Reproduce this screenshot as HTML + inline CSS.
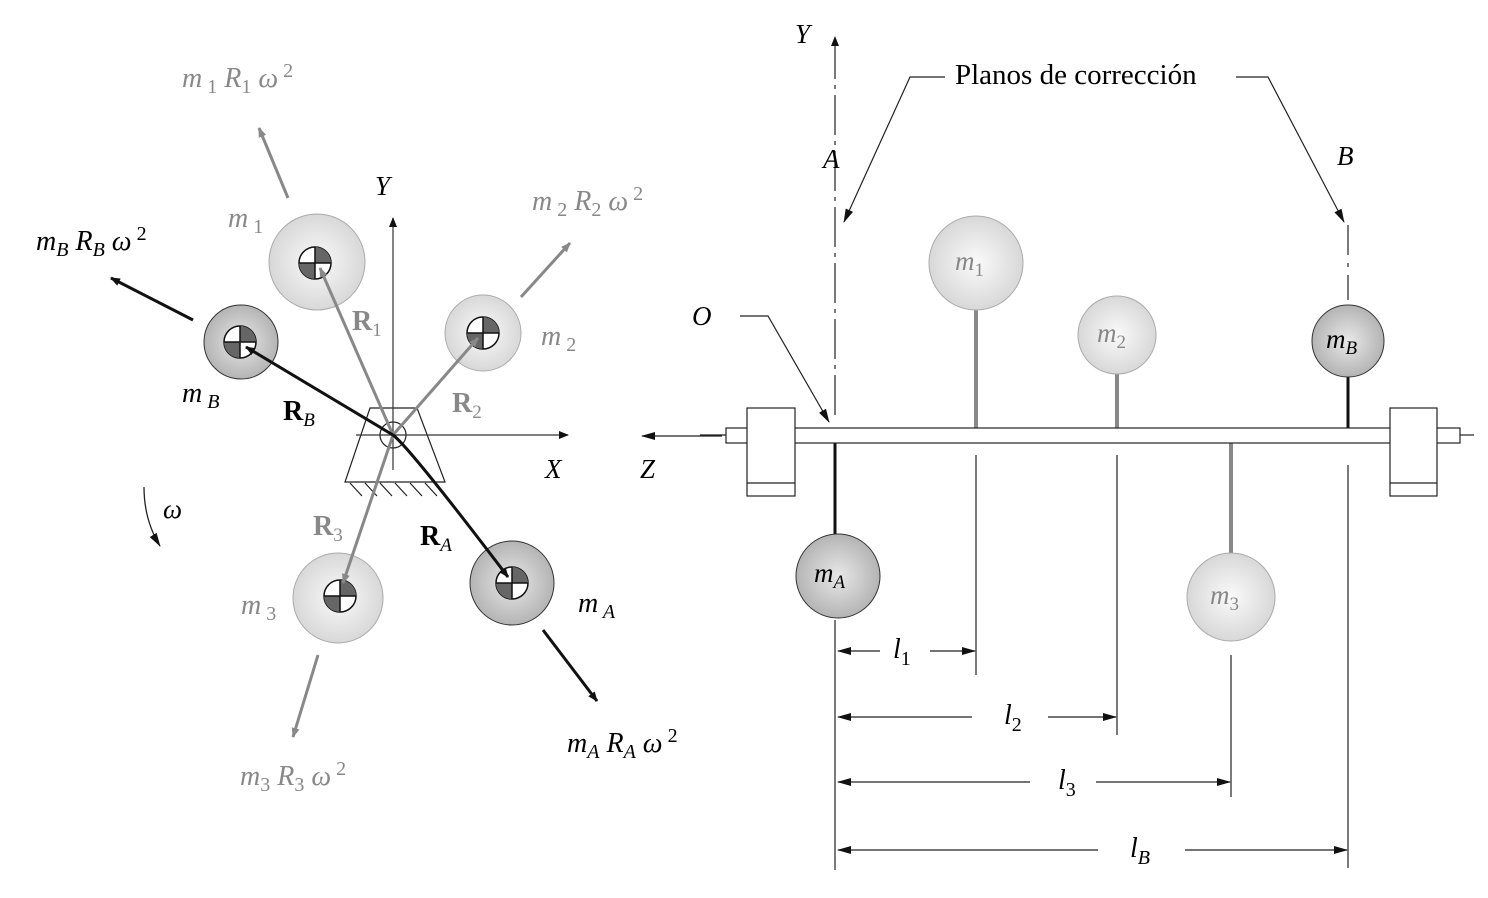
<!DOCTYPE html>
<html><head><meta charset="utf-8"><style>
html,body{margin:0;padding:0;background:#fff;}
svg{display:block;}
text{font-family:"Liberation Serif",serif;}
.it{font-style:italic;}
.g{fill:#888;}
.n{font-style:normal;}
</style></head><body>
<svg width="1488" height="898" viewBox="0 0 1488 898" xmlns="http://www.w3.org/2000/svg">
<defs>
<radialGradient id="lg" cx="50%" cy="50%" r="50%"><stop offset="0" stop-color="#fafafa"/><stop offset="1" stop-color="#d8d8d8"/></radialGradient>
<radialGradient id="dg" cx="50%" cy="50%" r="50%"><stop offset="0" stop-color="#e8e8e8"/><stop offset="1" stop-color="#b4b4b4"/></radialGradient>
<marker id="ab" markerWidth="10" markerHeight="8" refX="9" refY="4" orient="auto" markerUnits="userSpaceOnUse"><path d="M0,0 L10,4 L0,8 z" fill="#111"/></marker>
<marker id="ag" markerWidth="10" markerHeight="8" refX="9" refY="4" orient="auto" markerUnits="userSpaceOnUse"><path d="M0,0 L10,4 L0,8 z" fill="#888"/></marker>
<marker id="abl" markerWidth="14" markerHeight="8" refX="13" refY="4" orient="auto" markerUnits="userSpaceOnUse"><path d="M0,0 L14,4 L0,8 z" fill="#111"/></marker>
<g id="cg"><circle r="16" fill="#fff" stroke="#111" stroke-width="1.5"/><path d="M0,0 L0,-16 A16,16 0 0 1 16,0 z" fill="#666"/><path d="M0,0 L0,16 A16,16 0 0 1 -16,0 z" fill="#666"/><line x1="-16" y1="0" x2="16" y2="0" stroke="#111" stroke-width="1.5"/><line x1="0" y1="-16" x2="0" y2="16" stroke="#111" stroke-width="1.5"/></g>
</defs>

<circle cx="317" cy="262" r="48" fill="url(#lg)" stroke="#aaa"/>
<circle cx="483" cy="333" r="38" fill="url(#lg)" stroke="#aaa"/>
<circle cx="241" cy="342" r="37" fill="url(#dg)" stroke="#333"/>
<circle cx="338" cy="598" r="45" fill="url(#lg)" stroke="#aaa"/>
<circle cx="512" cy="583" r="42" fill="url(#dg)" stroke="#333"/>
<use href="#cg" x="315" y="263"/>
<use href="#cg" x="483" y="333"/>
<use href="#cg" x="240" y="342"/>
<use href="#cg" x="340" y="596"/>
<use href="#cg" x="512" y="583"/>

<path d="M370,408 L417,408 L445,482 L345,482 Z" fill="none" stroke="#222" stroke-width="1.2"/>
<g stroke="#222" stroke-width="1.2">
<line x1="350" y1="483" x2="362" y2="496"/><line x1="365" y1="483" x2="377" y2="496"/><line x1="380" y1="483" x2="392" y2="496"/><line x1="395" y1="483" x2="407" y2="496"/><line x1="410" y1="483" x2="422" y2="496"/><line x1="425" y1="483" x2="437" y2="496"/>
</g>
<circle cx="393" cy="435" r="13" fill="none" stroke="#222" stroke-width="1.2"/>
<line x1="393" y1="470" x2="393" y2="218" stroke="#333" stroke-width="1.2" marker-end="url(#ab)"/>
<line x1="356" y1="435" x2="568" y2="435" stroke="#333" stroke-width="1.2" marker-end="url(#ab)"/>

<g stroke="#888" stroke-width="3">
<line x1="393" y1="435" x2="320" y2="268" marker-end="url(#ag)"/>
<line x1="393" y1="435" x2="478" y2="338" marker-end="url(#ag)"/>
<line x1="393" y1="435" x2="343" y2="583" marker-end="url(#ag)"/>
</g>
<line x1="393" y1="435" x2="246" y2="347" stroke="#111" stroke-width="3" marker-end="url(#ab)"/>
<path d="M393,435 Q410,448 508,577" fill="none" stroke="#111" stroke-width="3" marker-end="url(#ab)"/>

<g stroke="#888" stroke-width="3">
<line x1="288" y1="198" x2="259" y2="128" marker-end="url(#ag)"/>
<line x1="521" y1="297" x2="570" y2="243" marker-end="url(#ag)"/>
<line x1="318" y1="655" x2="293" y2="737" marker-end="url(#ag)"/>
</g>
<line x1="193" y1="320" x2="111" y2="278" stroke="#111" stroke-width="3" marker-end="url(#ab)"/>
<line x1="543" y1="630" x2="597" y2="701" stroke="#111" stroke-width="3" marker-end="url(#ab)"/>

<path d="M144,487 Q144,520 160,546" fill="none" stroke="#222" stroke-width="1.3" marker-end="url(#abl)"/>
<text x="163" y="518" font-size="27" class="it">ω</text>

<text x="182" y="87" font-size="28" class="it g">m<tspan class="n" font-size="20" dy="6"> 1</tspan><tspan dy="-6"> R</tspan><tspan class="n" font-size="20" dy="6">1</tspan><tspan dy="-6"> ω</tspan><tspan class="n" font-size="20" dy="-10"> 2</tspan></text>
<text x="532" y="210" font-size="28" class="it g">m<tspan class="n" font-size="20" dy="6"> 2</tspan><tspan dy="-6"> R</tspan><tspan class="n" font-size="20" dy="6">2</tspan><tspan dy="-6"> ω</tspan><tspan class="n" font-size="20" dy="-10"> 2</tspan></text>
<text x="36" y="250" font-size="28" class="it">m<tspan font-size="20" dy="6">B</tspan><tspan dy="-6"> R</tspan><tspan font-size="20" dy="6">B</tspan><tspan dy="-6"> ω</tspan><tspan class="n" font-size="20" dy="-10"> 2</tspan></text>
<text x="240" y="785" font-size="28" class="it g">m<tspan class="n" font-size="20" dy="6">3</tspan><tspan dy="-6"> R</tspan><tspan class="n" font-size="20" dy="6">3</tspan><tspan dy="-6"> ω</tspan><tspan class="n" font-size="20" dy="-10"> 2</tspan></text>
<text x="567" y="752" font-size="28" class="it">m<tspan font-size="20" dy="6">A</tspan><tspan dy="-6"> R</tspan><tspan font-size="20" dy="6">A</tspan><tspan dy="-6"> ω</tspan><tspan class="n" font-size="20" dy="-10"> 2</tspan></text>
<text x="228" y="227" font-size="28" class="it g">m<tspan class="n" font-size="20" dy="6"> 1</tspan></text>
<text x="541" y="345" font-size="28" class="it g">m<tspan class="n" font-size="20" dy="6"> 2</tspan></text>
<text x="182" y="402" font-size="28" class="it">m<tspan font-size="20" dy="6"> B</tspan></text>
<text x="241" y="614" font-size="28" class="it g">m<tspan class="n" font-size="20" dy="6"> 3</tspan></text>
<text x="578" y="612" font-size="28" class="it">m<tspan font-size="20" dy="6"> A</tspan></text>
<text x="352" y="330" font-size="28" font-weight="bold" class="g">R<tspan font-size="19" font-weight="normal" dy="6">1</tspan></text>
<text x="452" y="412" font-size="28" font-weight="bold" class="g">R<tspan font-size="19" font-weight="normal" dy="6">2</tspan></text>
<text x="313" y="535" font-size="28" font-weight="bold" class="g">R<tspan font-size="19" font-weight="normal" dy="6">3</tspan></text>
<text x="283" y="420" font-size="28" font-weight="bold">R<tspan font-size="19" font-weight="normal" font-style="italic" dy="6">B</tspan></text>
<text x="420" y="545" font-size="28" font-weight="bold">R<tspan font-size="19" font-weight="normal" font-style="italic" dy="6">A</tspan></text>
<text x="375" y="195" font-size="27" class="it">Y</text>
<text x="545" y="478" font-size="27" class="it">X</text>

<line x1="835" y1="415" x2="835" y2="37" stroke="#222" stroke-width="1.2" stroke-dasharray="40,6,4,6" marker-end="url(#ab)"/>
<line x1="1348" y1="225" x2="1348" y2="300" stroke="#222" stroke-width="1.2" stroke-dasharray="30,8,4,8"/>
<text x="795" y="43" font-size="27" class="it">Y</text>
<text x="823" y="168" font-size="27" class="it">A</text>
<text x="1337" y="165" font-size="27" class="it">B</text>
<text x="955" y="84" font-size="29">Planos de corrección</text>
<path d="M945,77 L910,77 L844,222" fill="none" stroke="#222" stroke-width="1.2" marker-end="url(#abl)"/>
<path d="M1236,77 L1268,77 L1344,222" fill="none" stroke="#222" stroke-width="1.2" marker-end="url(#abl)"/>
<text x="692" y="325" font-size="27" class="it">O</text>
<path d="M740,316 L768,316 L829,422" fill="none" stroke="#222" stroke-width="1.2" marker-end="url(#abl)"/>

<line x1="976" y1="308" x2="976" y2="428" stroke="#888" stroke-width="4"/>
<line x1="1117" y1="372" x2="1117" y2="428" stroke="#888" stroke-width="4"/>
<line x1="1348" y1="376" x2="1348" y2="428" stroke="#111" stroke-width="3"/>
<line x1="835" y1="443" x2="835" y2="536" stroke="#111" stroke-width="3"/>
<line x1="1231" y1="443" x2="1231" y2="554" stroke="#888" stroke-width="4"/>

<line x1="700" y1="435" x2="726" y2="435" stroke="#222" stroke-width="1.2"/>
<line x1="722" y1="436" x2="642" y2="436" stroke="#222" stroke-width="1.2" marker-end="url(#abl)"/>
<text x="640" y="478" font-size="27" class="it">Z</text>
<line x1="1460" y1="435" x2="1474" y2="435" stroke="#222" stroke-width="1.2"/>
<rect x="726" y="428" width="734" height="15" fill="#fff" stroke="#222" stroke-width="1.2"/>
<rect x="747" y="408" width="48" height="88" fill="#fff" stroke="#222" stroke-width="1.2"/>
<line x1="747" y1="483" x2="795" y2="483" stroke="#222" stroke-width="1.2"/>
<rect x="1390" y="408" width="47" height="88" fill="#fff" stroke="#222" stroke-width="1.2"/>
<line x1="1390" y1="483" x2="1437" y2="483" stroke="#222" stroke-width="1.2"/>

<circle cx="976" cy="263" r="47" fill="url(#lg)" stroke="#aaa"/>
<circle cx="1117" cy="335" r="39" fill="url(#lg)" stroke="#aaa"/>
<circle cx="1348" cy="341" r="36" fill="url(#dg)" stroke="#333"/>
<circle cx="838" cy="576" r="42" fill="url(#dg)" stroke="#333"/>
<circle cx="1231" cy="597" r="44" fill="url(#lg)" stroke="#aaa"/>
<text x="955" y="270" font-size="27" class="it g">m<tspan class="n" font-size="19" dy="6">1</tspan></text>
<text x="1097" y="342" font-size="27" class="it g">m<tspan class="n" font-size="19" dy="6">2</tspan></text>
<text x="1326" y="348" font-size="27" class="it">m<tspan font-size="19" dy="6">B</tspan></text>
<text x="814" y="582" font-size="27" class="it">m<tspan font-size="19" dy="6">A</tspan></text>
<text x="1210" y="604" font-size="27" class="it g">m<tspan class="n" font-size="19" dy="6">3</tspan></text>

<g stroke="#222" stroke-width="1.2">
<line x1="835" y1="620" x2="835" y2="870"/>
<line x1="976" y1="455" x2="976" y2="675"/>
<line x1="1117" y1="455" x2="1117" y2="735"/>
<line x1="1231" y1="655" x2="1231" y2="797"/>
<line x1="1348" y1="465" x2="1348" y2="868"/>
<line x1="880" y1="651" x2="838" y2="651" marker-end="url(#abl)"/>
<line x1="930" y1="651" x2="975" y2="651" marker-end="url(#abl)"/>
<line x1="972" y1="717" x2="838" y2="717" marker-end="url(#abl)"/>
<line x1="1048" y1="717" x2="1116" y2="717" marker-end="url(#abl)"/>
<line x1="1030" y1="782" x2="838" y2="782" marker-end="url(#abl)"/>
<line x1="1096" y1="782" x2="1230" y2="782" marker-end="url(#abl)"/>
<line x1="1098" y1="850" x2="838" y2="850" marker-end="url(#abl)"/>
<line x1="1185" y1="850" x2="1347" y2="850" marker-end="url(#abl)"/>
</g>
<text x="893" y="658" font-size="28" class="it">l<tspan font-size="20" class="n" dy="7">1</tspan></text>
<text x="1004" y="724" font-size="28" class="it">l<tspan font-size="20" class="n" dy="7">2</tspan></text>
<text x="1058" y="789" font-size="28" class="it">l<tspan font-size="20" class="n" dy="7">3</tspan></text>
<text x="1130" y="857" font-size="28" class="it">l<tspan font-size="20" dy="7">B</tspan></text>
</svg>
</body></html>
